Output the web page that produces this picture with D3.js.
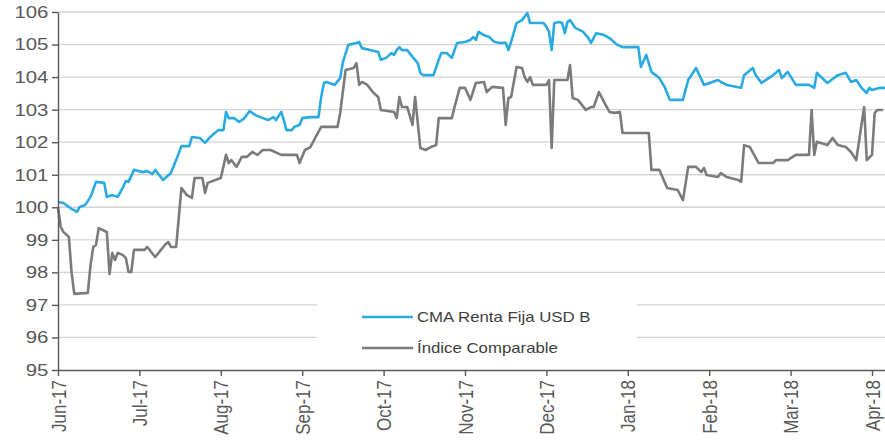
<!DOCTYPE html>
<html><head><meta charset="utf-8">
<script src="https://cdn.jsdelivr.net/npm/d3@7"></script>
<style>html,body{margin:0;padding:0;background:#fff;} svg{display:block;font-family:"Liberation Sans",Arial,sans-serif;}</style>
</head><body><svg id="chart" width="885" height="442"></svg>
<script>
// ---- data ----
const seriesNames = ["CMA Renta Fija USD B", "Índice Comparable"];
const cmaDates = ["2017-06-01","2017-06-03","2017-06-04","2017-06-06","2017-06-08","2017-06-09","2017-06-11","2017-06-13","2017-06-15","2017-06-18","2017-06-19","2017-06-21","2017-06-23","2017-06-25","2017-06-26","2017-06-27","2017-06-29",
"2017-07-02","2017-07-04","2017-07-06","2017-07-07","2017-07-10","2017-07-13","2017-07-15","2017-07-17","2017-07-20","2017-07-21","2017-07-24","2017-07-26","2017-07-28","2017-07-31",
"2017-08-02","2017-08-03","2017-08-04","2017-08-06","2017-08-08","2017-08-10","2017-08-12","2017-08-14","2017-08-17","2017-08-19","2017-08-21","2017-08-22","2017-08-24","2017-08-25","2017-08-26","2017-08-28","2017-08-29","2017-08-31",
"2017-09-01","2017-09-04","2017-09-07","2017-09-08","2017-09-09","2017-09-10","2017-09-13","2017-09-15","2017-09-16","2017-09-18","2017-09-21","2017-09-22","2017-09-23","2017-09-26","2017-09-29","2017-09-30",
"2017-10-02","2017-10-04","2017-10-05","2017-10-06","2017-10-07","2017-10-08","2017-10-10","2017-10-12","2017-10-14","2017-10-15","2017-10-16","2017-10-20","2017-10-22","2017-10-23","2017-10-25","2017-10-27","2017-10-28","2017-10-29",
"2017-11-01","2017-11-03","2017-11-04","2017-11-05","2017-11-06","2017-11-08","2017-11-10","2017-11-11","2017-11-12","2017-11-14","2017-11-16","2017-11-17","2017-11-18","2017-11-20","2017-11-22","2017-11-24","2017-11-25","2017-11-30",
"2017-12-01","2017-12-02","2017-12-03","2017-12-04","2017-12-06","2017-12-07","2017-12-08","2017-12-09","2017-12-10","2017-12-12","2017-12-15","2017-12-17","2017-12-18","2017-12-20","2017-12-23","2017-12-25","2017-12-28","2017-12-30",
"2018-01-02","2018-01-05","2018-01-06","2018-01-08","2018-01-10","2018-01-13","2018-01-15","2018-01-17","2018-01-22","2018-01-24","2018-01-27","2018-01-30",
"2018-02-04","2018-02-05","2018-02-07","2018-02-12","2018-02-13","2018-02-16","2018-02-17","2018-02-19","2018-02-23","2018-02-25","2018-02-26","2018-02-28",
"2018-03-03","2018-03-08","2018-03-10","2018-03-11","2018-03-15","2018-03-19","2018-03-22","2018-03-24","2018-03-26","2018-03-28","2018-03-30","2018-03-31",
"2018-04-01","2018-04-04","2018-04-06"];
const cmaValues = [100.16,100.13,100.07,99.95,99.86,100.01,100.07,100.32,100.78,100.75,100.32,100.38,100.32,100.62,100.81,100.78,101.15,
101.08,101.11,101.02,101.15,100.84,101.05,101.45,101.88,101.88,102.16,102.13,101.98,102.16,102.37,
102.37,102.93,102.74,102.74,102.62,102.74,102.96,102.84,102.74,102.68,102.77,102.68,102.93,102.68,102.37,102.37,102.47,102.53,
102.74,102.77,102.77,103.39,103.82,103.85,103.76,103.97,104.46,104.99,105.05,105.08,104.89,104.83,104.77,104.53,
104.59,104.74,104.68,104.83,104.92,104.83,104.83,104.62,104.43,104.13,104.06,104.06,104.53,104.74,104.74,104.59,104.83,105.05,
105.08,105.14,105.23,105.14,105.39,105.29,105.23,105.14,105.08,105.05,105.05,104.83,105.08,105.66,105.75,105.97,105.66,105.66,
105.54,105.39,104.83,105.66,105.69,105.66,105.35,105.69,105.75,105.51,105.39,105.20,105.05,105.35,105.29,105.20,104.99,104.92,
104.92,104.92,104.31,104.68,104.16,103.97,103.70,103.30,103.30,103.91,104.28,103.76,
103.91,103.85,103.76,103.67,104.06,104.28,104.06,103.82,104.06,104.22,103.97,104.16,
103.76,103.76,103.67,104.13,103.82,104.06,104.13,103.85,103.91,103.67,103.51,103.67,
103.60,103.67,103.67];

const idxDates = ["2017-06-01","2017-06-02","2017-06-03","2017-06-05","2017-06-06","2017-06-07","2017-06-12","2017-06-13","2017-06-14","2017-06-15","2017-06-16","2017-06-19","2017-06-20","2017-06-21","2017-06-22","2017-06-23","2017-06-25","2017-06-26","2017-06-27","2017-06-28","2017-06-29",
"2017-07-03","2017-07-04","2017-07-07","2017-07-11","2017-07-12","2017-07-13","2017-07-15","2017-07-17","2017-07-19","2017-07-21","2017-07-22","2017-07-25","2017-07-26","2017-07-27",
"2017-08-01","2017-08-03","2017-08-04","2017-08-05","2017-08-07","2017-08-09","2017-08-11","2017-08-13","2017-08-15","2017-08-17","2017-08-20","2017-08-24","2017-08-30","2017-08-31",
"2017-09-02","2017-09-04","2017-09-06","2017-09-08","2017-09-14","2017-09-15","2017-09-17","2017-09-20","2017-09-21","2017-09-22","2017-09-23","2017-09-25","2017-09-27","2017-09-29","2017-09-30",
"2017-10-05","2017-10-06","2017-10-07","2017-10-08","2017-10-10","2017-10-12","2017-10-13","2017-10-15","2017-10-17","2017-10-19","2017-10-21","2017-10-22","2017-10-27","2017-10-28","2017-10-30",
"2017-11-01","2017-11-03","2017-11-05","2017-11-08","2017-11-09","2017-11-11","2017-11-15","2017-11-16","2017-11-17","2017-11-18","2017-11-20","2017-11-22","2017-11-23","2017-11-24","2017-11-25","2017-11-26",
"2017-12-01","2017-12-02","2017-12-03","2017-12-04","2017-12-09","2017-12-10","2017-12-11","2017-12-13","2017-12-14","2017-12-16","2017-12-18","2017-12-19","2017-12-21","2017-12-24","2017-12-25","2017-12-27","2017-12-29","2017-12-30",
"2018-01-09","2018-01-10","2018-01-13","2018-01-16","2018-01-20","2018-01-22","2018-01-24","2018-01-27","2018-01-29","2018-01-30","2018-01-31",
"2018-02-04","2018-02-05","2018-02-07","2018-02-11","2018-02-12","2018-02-13","2018-02-15","2018-02-18","2018-02-23","2018-02-24","2018-02-28",
"2018-03-03","2018-03-08","2018-03-09","2018-03-10","2018-03-11","2018-03-15","2018-03-17","2018-03-19","2018-03-22","2018-03-24","2018-03-26","2018-03-29","2018-03-30",
"2018-04-01","2018-04-02","2018-04-03","2018-04-05"];
const idxValues = [100.00,99.40,99.24,99.09,98.00,97.34,97.37,98.23,98.78,98.84,99.36,99.24,97.95,98.60,98.38,98.60,98.53,98.44,98.01,98.01,98.69,
98.69,98.78,98.47,98.87,98.93,98.78,98.78,100.59,100.38,100.29,100.90,100.90,100.44,100.75,
100.90,101.61,101.36,101.45,101.24,101.55,101.55,101.70,101.61,101.76,101.76,101.61,101.61,101.36,
101.76,101.85,102.16,102.47,102.47,102.90,104.22,104.28,104.43,103.76,103.85,103.76,103.54,103.39,102.99,
102.93,102.74,103.39,103.08,103.08,102.53,103.39,101.82,101.76,101.85,101.91,102.74,102.74,103.08,103.67,
103.67,103.30,103.82,103.85,103.54,103.70,103.67,102.53,103.36,103.39,104.31,104.28,104.00,103.85,104.00,103.76,
103.76,103.91,101.82,103.91,103.91,104.37,103.36,103.30,103.20,102.99,103.08,103.08,103.54,103.08,102.93,102.90,102.93,102.28,
102.28,101.15,101.15,100.59,100.53,100.22,101.24,101.24,101.08,101.21,100.99,
100.93,101.05,100.93,100.84,100.78,101.91,101.85,101.36,101.36,101.45,101.45,
101.61,101.61,102.99,101.61,102.01,101.91,102.13,101.91,101.85,101.70,101.45,103.08,101.45,
101.61,102.90,102.99,102.99];

const yTicks = [95,96,97,98,99,100,101,102,103,104,105,106];
const monthTicks = ["2017-06-01","2017-07-01","2017-08-01","2017-09-01","2017-10-01","2017-11-01","2017-12-01","2018-01-01","2018-02-01","2018-03-01","2018-04-01"];

// ---- chart ----
const parse = d3.timeParse("%Y-%m-%d");
const W = 885, H = 442, mLeft = 58, mTop = 12, mBottom = 370, monthW = 81.4;
const stretch = 1.2;
const edges = monthTicks.concat(["2018-05-01"]).map(parse);
const x = d3.scaleTime().domain(edges).range(edges.map((d, i) => mLeft + i * monthW));
const y = d3.scaleLinear().domain([95, 106]).range([mBottom, mTop]);

const svg = d3.select("#chart");
svg.append("rect").attr("width", W).attr("height", H).attr("fill", "#fff");

// gridlines
svg.append("g").selectAll("line").data(yTicks.filter(d => d > 95)).join("line")
  .attr("x1", mLeft).attr("x2", W).attr("y1", d => y(d)).attr("y2", d => y(d))
  .attr("stroke", "#d3d3d3").attr("stroke-width", 1.3);

// legend background box
svg.append("rect").attr("x", 317).attr("y", 283).attr("width", 320).attr("height", 80).attr("fill", "#fff");

const cma = cmaDates.map((d, i) => ({date: parse(d), value: cmaValues[i]}));
const idx = idxDates.map((d, i) => ({date: parse(d), value: idxValues[i]}));
const line = d3.line().x(d => x(d.date)).y(d => y(d.value));

svg.append("path").datum(idx).attr("d", line).attr("fill", "none")
  .attr("stroke", "#7b7b7b").attr("stroke-width", 2.6).attr("stroke-linejoin", "round");
svg.append("path").datum(cma).attr("d", line).attr("fill", "none")
  .attr("stroke", "#29abe2").attr("stroke-width", 2.6).attr("stroke-linejoin", "round");

// y axis
const gy = svg.append("g").attr("transform", `translate(${mLeft},0)`)
  .call(d3.axisLeft(y).tickValues(yTicks).tickFormat(d3.format("d")).tickSize(6).tickSizeOuter(0).tickPadding(2));
gy.selectAll("path,line").attr("stroke", "#595959").attr("stroke-width", 1.4);
gy.selectAll("text").attr("fill", "#595959").attr("font-size", 17)
  .attr("font-family", '"Liberation Sans",Arial,sans-serif')
  .attr("transform", `scale(${stretch},1)`);

// x axis
const gx = svg.append("g").attr("transform", `translate(0,${mBottom})`)
  .call(d3.axisBottom(x).tickValues(monthTicks.map(parse)).tickFormat(d3.timeFormat("%b-%y")).tickSize(6).tickSizeOuter(0));
gx.selectAll("path,line").attr("stroke", "#595959").attr("stroke-width", 1.4);
gx.selectAll("text").attr("fill", "#595959").attr("font-size", 17)
  .attr("font-family", '"Liberation Sans",Arial,sans-serif')
  .attr("text-anchor", "end").attr("x", -10).attr("y", 0).attr("dy", "0.35em")
  .attr("transform", `scale(${stretch},1) rotate(-90)`);

// legend
const legend = svg.append("g");
const items = [{name: seriesNames[0], color: "#29abe2", y: 317}, {name: seriesNames[1], color: "#7b7b7b", y: 348}];
items.forEach(it => {
  legend.append("line").attr("x1", 362).attr("x2", 413).attr("y1", it.y).attr("y2", it.y)
    .attr("stroke", it.color).attr("stroke-width", 2.6);
  legend.append("text").attr("transform", `translate(417,${it.y}) scale(${stretch},1)`)
    .attr("dy", "0.35em").attr("font-size", 14).attr("fill", "#404040").text(it.name);
});
</script></body></html>
